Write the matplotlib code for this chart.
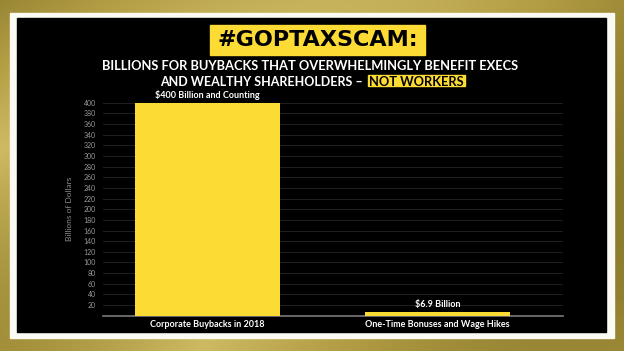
import numpy as np
import matplotlib.pyplot as plt
from matplotlib.patches import Rectangle
from matplotlib.colors import LinearSegmentedColormap

categories = ["Corporate Buybacks in 2018", "One-Time Bonuses and Wage Hikes"]
values = [400, 6.9]
bar_labels = ["$400 Billion and Counting", "$6.9 Billion"]
yticks = list(range(20, 401, 20))

YELLOW = "#FCDB35"
FONT = "Lato"
W, H = 624, 351


def fx(px):
    return px / W


def fy(py):
    return 1 - py / H


fig = plt.figure(figsize=(6.24, 3.51), dpi=100)

# gold blurred-money style background
bg = fig.add_axes([0, 0, 1, 1])
bg.set_axis_off()
gold = LinearSegmentedColormap.from_list("gold", ["#8C7C2E", "#B09A42", "#CDBA62", "#A38F3A"])
yy, xx = np.mgrid[0:1:200j, 0:1:350j]
bg.imshow(np.sin(3 * xx + 2 * yy) * 0.5 + 0.5 * yy, cmap=gold, aspect="auto", extent=[0, 1, 0, 1])
bg.set_xlim(0, 1)
bg.set_ylim(0, 1)

# white frame + black panel
fig.patches.append(Rectangle((fx(10), fy(338)), fx(604), 325 / H,
                             transform=fig.transFigure, color="#FBFAF3", zorder=1))
fig.patches.append(Rectangle((fx(17), fy(332)), fx(589), 314 / H,
                             transform=fig.transFigure, color="black", zorder=2))

# title with yellow box
fig.patches.append(Rectangle((fx(210), fy(55)), fx(215), 30 / H,
                             transform=fig.transFigure, color=YELLOW, zorder=3))
fig.text(fx(317.5), fy(40.5), "#GOPTAXSCAM:", ha="center", va="center",
         fontsize=16, fontweight="bold", family="DejaVu Sans", color="black", zorder=5)

# subtitle
fig.text(fx(310.5), fy(66.5), "BILLIONS FOR BUYBACKS THAT OVERWHELMINGLY BENEFIT EXECS",
         ha="center", va="center", fontsize=9.3, fontweight="bold", family=FONT,
         color="white", zorder=5)
fig.text(fx(366), fy(81.5), "AND WEALTHY SHAREHOLDERS \u2013 ", ha="right", va="center",
         fontsize=9.0, fontweight="bold", family=FONT, color="white", zorder=5)
fig.patches.append(Rectangle((fx(368), fy(86)), fx(97), 11 / H,
                             transform=fig.transFigure, color=YELLOW, zorder=3))
fig.text(fx(416.5), fy(81.5), "NOT WORKERS", ha="center", va="center",
         fontsize=9.3, fontweight="bold", family=FONT, color="black", zorder=5)

# chart
ax = fig.add_axes([fx(103), fy(315.7), fx(460), 213 / H], zorder=4)
ax.set_facecolor("none")
x = np.arange(len(categories))
bars = ax.bar(x, values, width=0.63, color=YELLOW, zorder=3)
ax.bar_label(bars, labels=bar_labels, padding=2, color="white", fontsize=6.5,
             fontweight="bold", family=FONT)

ax.set_xlim(-0.454, 1.546)
ax.set_ylim(0, 400)
ax.set_yticks(yticks)
ax.set_yticklabels([str(t) for t in yticks], fontsize=5, color="#9A9A9A", family=FONT)
ax.set_xticks(x)
ax.set_xticklabels(categories, fontsize=6.5, color="white", family=FONT, fontweight="bold")
ax.tick_params(axis="both", length=0, pad=5)
ax.tick_params(axis="x", pad=3)
ax.grid(axis="y", color="#262626", linewidth=0.6, zorder=0)
for s in ["top", "right", "left"]:
    ax.spines[s].set_visible(False)
ax.spines["bottom"].set_color("#7A7A7A")
ax.spines["bottom"].set_linewidth(1.2)
ax.set_ylabel("Billions of Dollars", fontsize=6, color="#8A8A8A", family=FONT, labelpad=8)

fig.savefig("out.png", dpi=100)
